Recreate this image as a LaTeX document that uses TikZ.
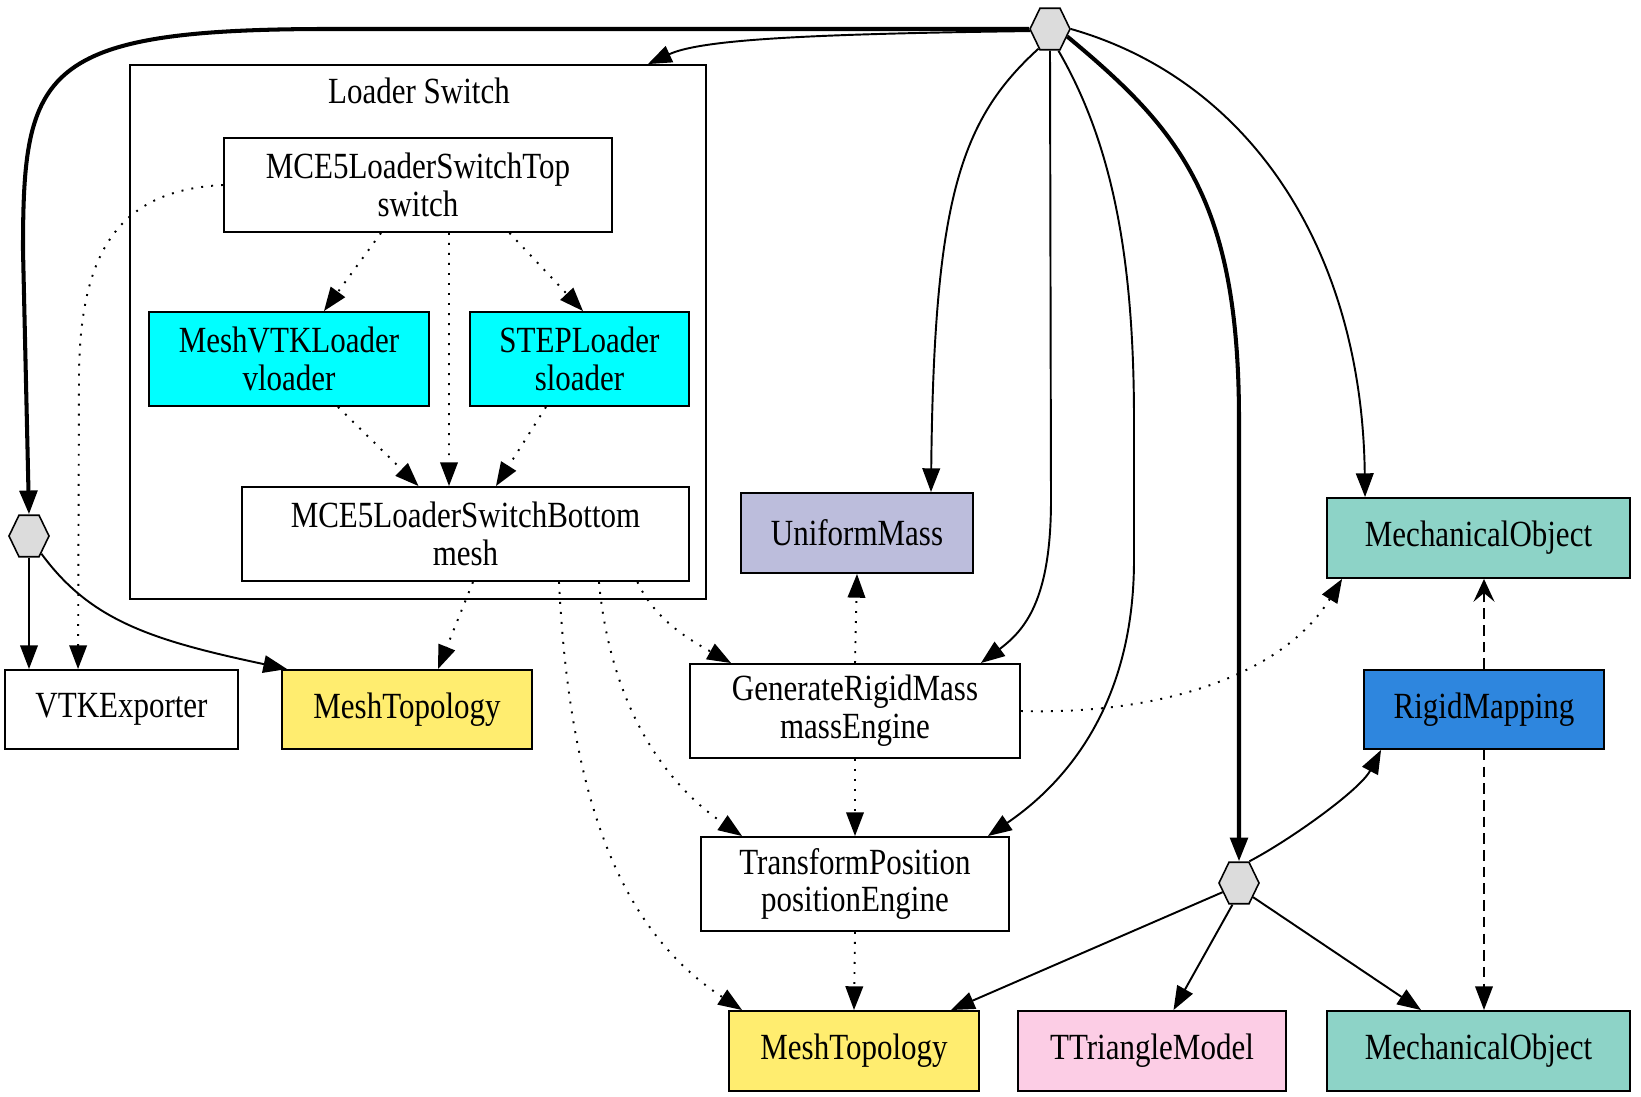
\documentclass[tikz,border=0pt]{standalone}
\usepackage{fontspec}
\setmainfont{Liberation Serif}[FakeStretch=0.84]
\usetikzlibrary{arrows.meta,positioning,shapes.geometric}

\definecolor{loadercyan}{HTML}{00FFFF}
\definecolor{masspurple}{HTML}{BCBDDC}
\definecolor{mechgreen}{HTML}{8DD3C7}
\definecolor{topoyellow}{HTML}{FFED6F}
\definecolor{collpink}{HTML}{FCCDE5}
\definecolor{mapblue}{HTML}{2E86DE}
\definecolor{hubgray}{HTML}{DCDCDC}

\begin{document}
\begin{tikzpicture}[
  x=0.02cm, y=-0.02cm,
  font=\fontsize{21pt}{21.5pt}\selectfont,
  >={Triangle[length=13.5pt, width=10pt]},
  comp/.style={rectangle, draw=black, line width=1.1pt, align=center, inner sep=0pt},
  hub/.style={regular polygon, regular polygon sides=6, draw=black, line width=0.9pt,
              fill=hubgray, minimum size=0.8cm, inner sep=0pt, yscale=1.2, transform shape},
  arr/.style={->, line width=1.1pt},
  bigarr/.style={->, line width=2.3pt},
  datalink/.style={->, line width=1.1pt, dash pattern=on 1.1pt off 4.6pt},
  maplink/.style={line width=1.1pt, dash pattern=on 6pt off 3.5pt}
]
\useasboundingbox (0,0) rectangle (1641,1097);

% Loader switch group
\node[rectangle, draw, line width=1.1pt, minimum width=11.52cm, minimum height=10.68cm] (loader) at (418,332) {};
\node (loadertitle) at (419,91) {Loader Switch};
\node[comp, minimum width=7.76cm, minimum height=1.88cm] (swtop) at (418,185) {MCE5LoaderSwitchTop\\switch};
\node[comp, fill=loadercyan, minimum width=5.6cm, minimum height=1.88cm] (vloader) at (289,359) {MeshVTKLoader\\vloader};
\node[comp, fill=loadercyan, minimum width=4.38cm, minimum height=1.88cm] (sloader) at (579.5,359) {STEPLoader\\sloader};
\node[comp, minimum width=8.94cm, minimum height=1.88cm] (swbottom) at (465.5,534) {MCE5LoaderSwitchBottom\\mesh};

% Hubs
\node[hub] (roothub) at (1050,29) {};
\node[hub] (exphub) at (29,536) {};
\node[hub] (rigidhub) at (1239,883) {};

% Components
\node[comp, minimum width=4.66cm, minimum height=1.58cm] (vtkexp) at (121.5,709.5) {VTKExporter};
\node[comp, fill=topoyellow, minimum width=5cm, minimum height=1.58cm] (topoleft) at (407,709.5) {MeshTopology};
\node[comp, fill=masspurple, minimum width=4.64cm, minimum height=1.6cm] (umass) at (857,533) {UniformMass};
\node[comp, fill=mechgreen, minimum width=6.06cm, minimum height=1.6cm] (mobjtop) at (1478.5,538) {MechanicalObject};
\node[comp, minimum width=6.6cm, minimum height=1.88cm] (massengine) at (855,711) {GenerateRigidMass\\massEngine};
\node[comp, fill=mapblue, minimum width=4.8cm, minimum height=1.58cm] (rmap) at (1484,709.5) {RigidMapping};
\node[comp, minimum width=6.16cm, minimum height=1.88cm] (posengine) at (855,884) {TransformPosition\\positionEngine};
\node[comp, fill=topoyellow, minimum width=5cm, minimum height=1.6cm] (topobottom) at (854,1051) {MeshTopology};
\node[comp, fill=collpink, minimum width=5.36cm, minimum height=1.6cm] (tri) at (1152,1051) {TTriangleModel};
\node[comp, fill=mechgreen, minimum width=6.06cm, minimum height=1.6cm] (mobjbottom) at (1478.5,1051) {MechanicalObject};

% Root hub edges
\draw[bigarr] (roothub.west) -- (330,29) .. controls (40,29) and (23,70) .. (23,250) -- (exphub.north);
\draw[arr] (roothub.185) .. controls (800,34) and (700,40) .. ([xshift=-1.18cm]loader.north east);
\draw[arr] (roothub.235) .. controls (960,120) and (934,200) .. ([xshift=1.48cm]umass.north);
\draw[arr] (roothub.south) -- (1051,500) .. controls (1051,600) and (1025,630) .. ([xshift=-0.8cm]massengine.north east);
\draw[arr] (roothub.295) .. controls (1110,140) and (1134,250) .. (1134,420) -- (1134,560)
  .. controls (1134,700) and (1070,780) .. ([xshift=-0.44cm]posengine.north east);
\draw[bigarr] (roothub.340) .. controls (1180,130) and (1239,200) .. (1239,420) -- (rigidhub.north);
\draw[arr] (roothub.east) .. controls (1250,80) and (1362,250) .. ([xshift=0.78cm]mobjtop.north west);

% Exporter hub edges
\draw[arr] (exphub.south) -- (exphub.south |- vtkexp.north);
\draw[arr] (exphub.310) .. controls (90,620) and (150,640) .. ([xshift=0.12cm]topoleft.north west);

% Loader data links
\draw[datalink] (swtop.west) .. controls (120,190) and (79,250) .. (79,380) -- ([xshift=1.48cm]vtkexp.north west);
\draw[datalink] ([xshift=-0.74cm]swtop.south) -- ([xshift=0.7cm]vloader.north);
\draw[datalink] ([xshift=0.62cm]swtop.south) -- ([xshift=-0.33cm]swbottom.north);
\draw[datalink] ([xshift=1.83cm]swtop.south) -- ([xshift=0.07cm]sloader.north);
\draw[datalink] ([xshift=0.98cm]vloader.south) -- ([xshift=-0.94cm]swbottom.north);
\draw[datalink] ([xshift=-0.67cm]sloader.south) -- ([xshift=0.61cm]swbottom.north);
\draw[datalink] ([xshift=0.15cm]swbottom.south) -- ([xshift=0.62cm]topoleft.north);
\draw[datalink] ([xshift=-1.05cm]swbottom.south east) .. controls (655,620) and (690,640) .. ([xshift=0.84cm]massengine.north west);
\draw[datalink] ([xshift=-1.82cm]swbottom.south east) .. controls (610,700) and (660,780) .. ([xshift=0.84cm]posengine.north west);
\draw[datalink] ([xshift=-2.62cm]swbottom.south east) .. controls (570,800) and (620,930) .. ([xshift=0.28cm]topobottom.north west);

% Engine links
\draw[datalink] (massengine.north) -- (umass.south);
\draw[datalink] (massengine.east) .. controls (1150,715) and (1280,680) .. ([xshift=0.32cm]mobjtop.south west);
\draw[datalink] (massengine.south) -- (posengine.north);
\draw[datalink] (posengine.south) -- (topobottom.north);

% Rigid hub edges
\draw[arr] (rigidhub.60) .. controls (1290,840) and (1360,790) .. ([xshift=0.36cm]rmap.south west);
\draw[arr] (rigidhub.205) -- ([xshift=-0.58cm]topobottom.north east);
\draw[arr] (rigidhub.250) -- ([xshift=0.43cm]tri.north);
\draw[arr] (rigidhub.320) -- ([xshift=1.9cm]mobjbottom.north west);

% Mapping
\draw[maplink, -{Stealth[length=13pt, width=12pt, inset=5pt]}] (rmap.north) -- (rmap.north |- mobjtop.south);
\draw[maplink, ->] (rmap.south) -- (rmap.south |- mobjbottom.north);

\end{tikzpicture}
\end{document}
